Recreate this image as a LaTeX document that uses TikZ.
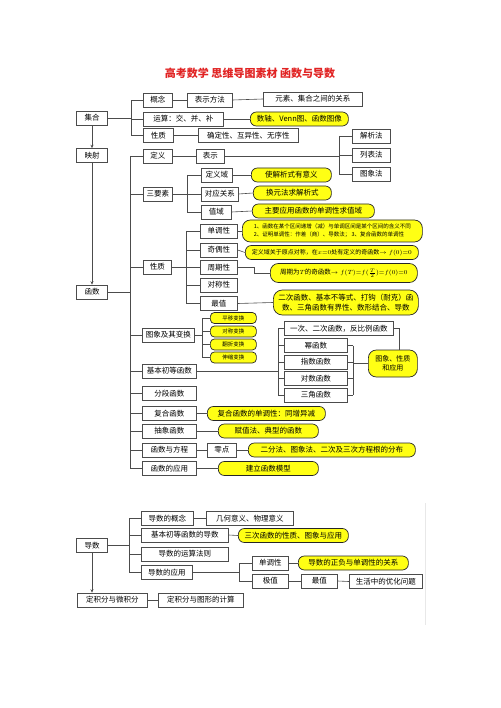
\documentclass[tikz,border=0pt]{standalone}
\usepackage{fontspec}
\setmainfont{Noto Sans CJK SC}
\usetikzlibrary{arrows.meta,shadows}
\definecolor{titlered}{RGB}{225,35,35}
\definecolor{ylw}{RGB}{255,255,20}
\begin{document}
\begin{tikzpicture}[x=1pt,y=-1pt,
 box/.style={draw=black!70, line width=0.6pt, fill=white, inner xsep=1pt, inner ysep=0pt, minimum height=14pt, anchor=west, font=\fontsize{7.5}{9}\selectfont, drop shadow={shadow xshift=0.8pt, shadow yshift=-0.8pt, opacity=0.3}},
 ybox/.style={draw=black!85, line width=0.7pt, fill=ylw, rounded corners=6pt, inner xsep=2pt, inner ysep=1pt, minimum height=14pt, anchor=west, font=\fontsize{7.5}{9}\selectfont, align=center},
 ln/.style={draw=black!70, line width=0.6pt},
 arr/.style={ln, -{Stealth[length=3.5pt,width=3pt]}},
]
\fill[white] (0,0) rectangle (500,708);
\useasboundingbox (0,0) rectangle (500,708);

\node[font=\fontsize{11}{13}\selectfont\bfseries, text=titlered] (title) at (250,73) {高考数学\ 思维导图素材\ 函数与导数};

% ---------- 集合 ----------
\node[box, anchor=center, minimum width=31pt] (jihe) at (92,118) {集合};
\node[box, minimum width=29pt] (gainian) at (143,100) {概念};
\node[box, minimum width=45pt] (bsff) at (187,100) {表示方法};
\node[box, minimum width=99pt] (yslx) at (263,99) {元素、集合之间的关系};
\node[box, minimum width=80pt] (yunsuan) at (143,119) {运算：交、并、补};
\node[ybox, minimum width=98pt] (yshuzhou) at (250,119) {数轴、Venn图、函数图像};
\node[box, minimum width=30pt] (xingzhi1) at (143,135.5) {性质};
\node[box, minimum width=100pt] (qdx) at (198,135.5) {确定性、互异性、无序性};

\coordinate (bA) at (131,0);
\draw[ln] (jihe.east) -- (jihe.east -| bA) |- (gainian.west);
\draw[ln] (jihe.east -| bA) |- (yunsuan.west);
\draw[ln] (jihe.east -| bA) |- (xingzhi1.west);
\draw[ln] (gainian.east) -- (bsff.west);
\draw[ln] (bsff.east) -- (yslx.west);
\draw[ln] (yunsuan.east) -- (yshuzhou.west);
\draw[ln] (xingzhi1.east) -- (qdx.west);

% ---------- 映射 / 函数 ----------
\node[box, anchor=center, minimum width=31pt] (yingshe) at (92,155.5) {映射};
\node[box, anchor=center, minimum width=31pt] (hanshu) at (92,292) {函数};
\draw[arr] (jihe.south) -- (yingshe.north);
\draw[arr] (yingshe.south) -- (hanshu.north);

% 定义
\node[box, minimum width=29pt] (dingyi) at (143,156) {定义};
\node[box, minimum width=28pt] (biaoshi) at (196,156) {表示};
\node[box, minimum width=38pt] (jxf) at (352,136) {解析法};
\node[box, minimum width=38pt] (lbf) at (352,155) {列表法};
\node[box, minimum width=38pt] (txf) at (352,174) {图象法};
\coordinate (bC) at (339,0);
\draw[ln] (dingyi.east) -- (biaoshi.west);
\draw[ln] (biaoshi.east) -- (biaoshi.east -| bC);
\foreach \n in {jxf,lbf,txf} \draw[ln] (\n.west) -- (\n.west -| bC);
\draw[ln] (jxf.west -| bC) -- (txf.west -| bC);

% 三要素
\node[box, minimum width=29pt] (sanyaosu) at (143,194) {三要素};
\node[box, minimum width=31pt] (dyy) at (201,175) {定义域};
\node[box, minimum width=37pt] (dygx) at (201,194) {对应关系};
\node[box, minimum width=30pt] (zhiyu) at (201,212) {值域};
\node[ybox, minimum width=80pt] (ydyy) at (251,175) {使解析式有意义};
\node[ybox, minimum width=78pt] (ydygx) at (253,193) {换元法求解析式};
\node[ybox, minimum width=122pt] (yzhiyu) at (252,211) {主要应用函数的单调性求值域};
\coordinate (bD) at (187,0);
\draw[ln] (sanyaosu.east) -- (sanyaosu.east -| bD);
\foreach \n in {dyy,dygx,zhiyu} \draw[ln] (\n.west) -- (\n.west -| bD);
\draw[ln] (dyy.west -| bD) -- (zhiyu.west -| bD);
\draw[ln] (dyy.east) -- (ydyy.west);
\draw[ln] (dygx.east) -- (ydygx.west);
\draw[ln] (zhiyu.east) -- (yzhiyu.west);

% 性质
\node[box, minimum width=28pt] (xingzhi2) at (143,267) {性质};
\node[box, minimum width=37pt] (dd) at (200,231) {单调性};
\node[box, minimum width=37pt] (qo) at (200,250) {奇偶性};
\node[box, minimum width=37pt] (zq) at (200,267.5) {周期性};
\node[box, minimum width=37pt] (dc) at (200,285) {对称性};
\node[box, minimum width=37pt] (zuizhi) at (200,303.5) {最值};
\node[ybox, minimum width=180pt, minimum height=22pt, rounded corners=8pt, align=left, font=\fontsize{5.5}{8}\selectfont] (ydd) at (242,231) {1、函数在某个区间递增（减）与单调区间是某个区间的含义不同\\2、证明单调性：作差（商）、导数法；\ 3、复合函数的单调性};
\node[ybox, minimum width=173pt, font=\fontsize{6}{8}\selectfont] (yqo) at (245,252.5) {定义域关于原点对称，在$x{=}0$处有定义的奇函数$\rightarrow f(0){=}0$};
\node[ybox, minimum width=147pt, minimum height=19pt, rounded corners=8pt, inner xsep=1pt, font=\fontsize{6.5}{8}\selectfont] (yzq) at (270,273) {周期为$T$的奇函数$\rightarrow f(T){=}f({\textstyle\frac{T}{2}}){=}f(0){=}0$};
\node[ybox, minimum width=145pt, minimum height=25pt, rounded corners=9pt, font=\fontsize{7.5}{9.5}\selectfont] (yzz) at (273,302.5) {二次函数、基本不等式、打钩（耐克）函\\数、三角函数有界性、数形结合、导数};
\coordinate (bE) at (186,0);
\draw[ln] (xingzhi2.east) -- (xingzhi2.east -| bE);
\foreach \n in {dd,qo,zq,dc,zuizhi} \draw[ln] (\n.west) -- (\n.west -| bE);
\draw[ln] (dd.west -| bE) -- (zuizhi.west -| bE);
\draw[ln] (dd.east) -- (ydd.west);
\draw[ln] (qo.east) -- (yqo.west);
\draw[ln] (zq.east) -- ++(17,0) |- (yzq.west);
\draw[ln] (zuizhi.east) -- (yzz.west);

% 图象及其变换
\node[box, minimum width=52pt] (txbh) at (142,335) {图象及其变换};
\node[ybox, minimum width=46pt, minimum height=11pt, rounded corners=4pt, inner ysep=0pt, font=\fontsize{5.5}{6}\selectfont] (py) at (210,318) {平移变换};
\node[ybox, minimum width=46pt, minimum height=11pt, rounded corners=4pt, inner ysep=0pt, font=\fontsize{5.5}{6}\selectfont] (dcbh) at (210,331.5) {对称变换};
\node[ybox, minimum width=46pt, minimum height=11pt, rounded corners=4pt, inner ysep=0pt, font=\fontsize{5.5}{6}\selectfont] (fz) at (210,344.5) {翻折变换};
\node[ybox, minimum width=46pt, minimum height=11pt, rounded corners=4pt, inner ysep=0pt, font=\fontsize{5.5}{6}\selectfont] (ss) at (210,357.5) {伸缩变换};
\coordinate (bF) at (202,0);
\draw[ln] (txbh.east) -- (txbh.east -| bF);
\foreach \n in {py,dcbh,fz,ss} \draw[ln] (\n.west) -- (\n.west -| bF);
\draw[ln] (py.west -| bF) -- (ss.west -| bF);

% 基本初等函数
\node[box, minimum width=54pt] (jbcd) at (142,371) {基本初等函数};
\node[box, minimum width=109pt] (ycec) at (284,328.5) {一次、二次函数，反比例函数};
\node[box, minimum width=63pt] (mi) at (284,345.5) {幂函数};
\node[box, minimum width=63pt] (zs) at (284,362) {指数函数};
\node[box, minimum width=63pt] (dsh) at (284,378.5) {对数函数};
\node[box, minimum width=63pt] (sj) at (284,395) {三角函数};
\node[ybox, minimum width=49pt, minimum height=27pt, rounded corners=8pt, font=\fontsize{7}{9}\selectfont] (tuxiang) at (368,363.5) {图象、性质\\和应用};
\coordinate (bG) at (278,0);
\coordinate (bH) at (353,0);
\coordinate (bI) at (399,0);
\draw[ln] (jbcd.east) -- (jbcd.east -| bG);
\foreach \n in {ycec,mi,zs,dsh,sj} \draw[ln] (\n.west) -- (\n.west -| bG);
\draw[ln] (ycec.west -| bG) -- (sj.west -| bG);
\foreach \n in {mi,zs,dsh,sj} \draw[ln] (\n.east) -- (\n.east -| bH);
\draw[ln] (mi.east -| bH) -- (sj.east -| bH);
\draw[ln] (tuxiang.west) -- (tuxiang.west -| bH);
\draw[ln] (ycec.east) -| (bI |- tuxiang.north);

% 其他
\node[box, minimum width=54pt] (fd) at (142,393.5) {分段函数};
\node[box, minimum width=54pt] (fh) at (142,413.5) {复合函数};
\node[ybox, minimum width=118pt] (yfh) at (207,413.5) {复合函数的单调性：同增异减};
\node[box, minimum width=54pt] (cx) at (142,431) {抽象函数};
\node[ybox, minimum width=100pt] (ycx) at (218,431) {赋值法、典型的函数};
\node[box, minimum width=54pt] (hsfc) at (142,450) {函数与方程};
\node[box, minimum width=29pt] (lingdian) at (207,450) {零点};
\node[ybox, minimum width=167pt] (yld) at (248,450) {二分法、图象法、二次及三次方程根的分布};
\node[box, minimum width=54pt] (hsyy) at (142,468.5) {函数的应用};
\node[ybox, minimum width=100pt] (yhsyy) at (218,468.5) {建立函数模型};
\draw[ln] (fh.east) -- (yfh.west);
\draw[ln] (cx.east) -- (ycx.west);
\draw[ln] (hsfc.east) -- (lingdian.west);
\draw[ln] (lingdian.east) -- (yld.west);
\draw[ln] (hsyy.east) -- (yhsyy.west);

\coordinate (bB) at (130,0);
\draw[ln] (hanshu.east) -- (hanshu.east -| bB);
\foreach \n in {dingyi,sanyaosu,xingzhi2,txbh,jbcd,fd,fh,cx,hsfc,hsyy} \draw[ln] (\n.west) -- (\n.west -| bB);
\draw[ln] (dingyi.west -| bB) -- (hsyy.west -| bB);

% ---------- 导数 ----------
\draw[gray!18, line width=0.6pt] (425,503) -- (425,625);
\node[box, anchor=center, minimum width=31pt] (daoshu) at (92,545.5) {导数};
\node[box, minimum width=52pt] (dsgn) at (141,518.5) {导数的概念};
\node[box, minimum width=87pt] (jhyy) at (206,518.5) {几何意义、物理意义};
\node[box, minimum width=87pt] (jbds) at (141,535) {基本初等函数的导数};
\node[ybox, minimum width=110pt] (ysc) at (238,535.5) {三次函数的性质、图象与应用};
\node[box, minimum width=87pt] (ysfz) at (141,554) {导数的运算法则};
\node[box, minimum width=51pt] (dsyy) at (141,572.5) {导数的应用};
\node[box, minimum width=36pt] (dd2) at (252,563) {单调性};
\node[ybox, minimum width=110pt] (yzf) at (298,563) {导数的正负与单调性的关系};
\node[box, minimum width=36pt] (jz2) at (252,581) {极值};
\node[box, minimum width=36pt] (zz2) at (301,581) {最值};
\node[box, minimum width=73pt] (shyh) at (349,581.5) {生活中的优化问题};
\node[box, minimum width=70pt] (djf) at (77,600) {定积分与微积分};
\node[box, minimum width=85pt] (djtx) at (158,600) {定积分与图形的计算};

\coordinate (bJ) at (129,0);
\coordinate (bK) at (239,0);
\draw[ln] (daoshu.east) -- (daoshu.east -| bJ);
\foreach \n in {dsgn,jbds,ysfz,dsyy} \draw[ln] (\n.west) -- (\n.west -| bJ);
\draw[ln] (dsgn.west -| bJ) -- (dsyy.west -| bJ);
\draw[ln] (dsgn.east) -- (jhyy.west);
\draw[ln] (jbds.east) -- (ysc.west);
\draw[ln] (dsyy.east) -- (dsyy.east -| bK);
\foreach \n in {dd2,jz2} \draw[ln] (\n.west) -- (\n.west -| bK);
\draw[ln] (dd2.west -| bK) -- (jz2.west -| bK);
\draw[ln] (dd2.east) -- (yzf.west);
\draw[ln] (jz2.east) -- (zz2.west);
\draw[ln] (zz2.east) -- (shyh.west);
\draw[arr] (daoshu.south) -- (daoshu.south |- djf.north);
\draw[ln] (djf.east) -- (djtx.west);
\end{tikzpicture}
\end{document}
